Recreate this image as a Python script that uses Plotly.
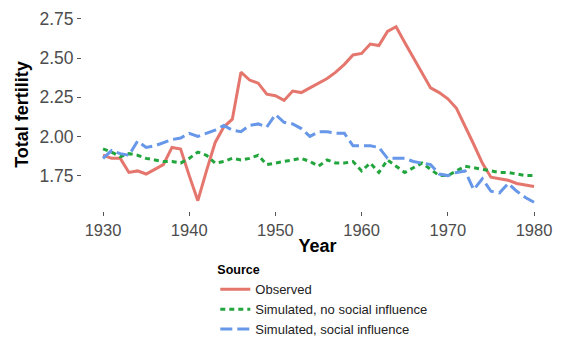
import plotly.graph_objects as go

years = list(range(1930, 1981))

observed = [1.88, 1.86, 1.86, 1.77, 1.78, 1.76, 1.79, 1.82, 1.93, 1.92,
            1.75, 1.59, 1.78, 1.96, 2.06, 2.11, 2.41, 2.36, 2.34, 2.27,
            2.26, 2.23, 2.29, 2.28, 2.31, 2.34, 2.37, 2.41, 2.46, 2.52,
            2.53, 2.59, 2.58, 2.67, 2.70, 2.60, 2.50, 2.41, 2.31, 2.28,
            2.24, 2.18, 2.07, 1.95, 1.83, 1.74, 1.73, 1.72, 1.70, 1.69,
            1.68]

sim_no_social = [1.92, 1.90, 1.87, 1.89, 1.88, 1.86, 1.85, 1.84, 1.84, 1.83,
                 1.86, 1.90, 1.88, 1.83, 1.84, 1.86, 1.85, 1.86, 1.88, 1.82,
                 1.83, 1.84, 1.85, 1.86, 1.84, 1.81, 1.85, 1.83, 1.83, 1.84,
                 1.78, 1.83, 1.77, 1.85, 1.81, 1.77, 1.80, 1.83, 1.79, 1.75,
                 1.75, 1.78, 1.81, 1.80, 1.79, 1.78, 1.77, 1.77, 1.76, 1.75,
                 1.75]

sim_social = [1.86, 1.91, 1.89, 1.88, 1.97, 1.93, 1.94, 1.96, 1.98, 1.99,
              2.02, 2.00, 2.02, 2.04, 2.07, 2.04, 2.03, 2.07, 2.08, 2.06,
              2.14, 2.09, 2.08, 2.05, 2.00, 2.03, 2.03, 2.02, 2.02, 1.94,
              1.94, 1.94, 1.93, 1.86, 1.86, 1.86, 1.84, 1.83, 1.82, 1.76,
              1.75, 1.77, 1.78, 1.66, 1.73, 1.65, 1.64, 1.70, 1.65, 1.61,
              1.58]

x_ticks = [1930, 1940, 1950, 1960, 1970, 1980]
y_ticks = [1.75, 2.00, 2.25, 2.50, 2.75]
y_tick_labels = ["1.75", "2.00", "2.25", "2.50", "2.75"]

FONT = "Liberation Sans, Arial, sans-serif"

fig = go.Figure()
fig.add_trace(go.Scatter(x=years, y=observed, mode="lines", name="Observed",
                         line=dict(color="#E5766D", width=3)))
fig.add_trace(go.Scatter(x=years, y=sim_no_social, mode="lines",
                         name="Simulated, no social influence",
                         line=dict(color="#22A53C", width=3, dash="5px,4px")))
fig.add_trace(go.Scatter(x=years, y=sim_social, mode="lines",
                         name="Simulated, social influence",
                         line=dict(color="#6797E8", width=3, dash="12px,5px")))

# The page body adds an 8px offset, so the figure is laid out 8px up/left.
fig.update_layout(
    width=545, height=330,
    margin=dict(l=74, r=0, t=10, b=127, autoexpand=False),
    paper_bgcolor="white", plot_bgcolor="white",
    font=dict(family=FONT, color="#4D4D4D"),
    showlegend=True,
    legend=dict(
        title=dict(text="<b>Source</b>", font=dict(size=12.5, color="black")),
        font=dict(size=13, color="#222222"),
        x=0.283, xanchor="left", y=-0.244, yanchor="top",
        bgcolor="rgba(0,0,0,0)", tracegroupgap=0,
    ),
)
fig.update_xaxes(
    range=[1927.56, 1982.20], tickvals=x_ticks, ticks="outside", ticklen=4,
    tickcolor="#555555", showgrid=False, zeroline=False, showline=False,
    ticklabeloverflow="allow",
    tickfont=dict(size=16.5, color="#4D4D4D"),
    title=dict(text="<b>Year</b>", font=dict(size=18, color="black"), standoff=1),
)
fig.update_yaxes(
    range=[1.524, 2.756], tickvals=y_ticks, ticktext=y_tick_labels,
    ticks="outside", ticklen=4, tickcolor="#555555", showgrid=False,
    zeroline=False, showline=False,
    tickfont=dict(size=17.5, color="#4D4D4D"),
    title=dict(text="<b>Total fertility</b>", font=dict(size=18, color="black"), standoff=6),
)

fig.write_html("out.html")
